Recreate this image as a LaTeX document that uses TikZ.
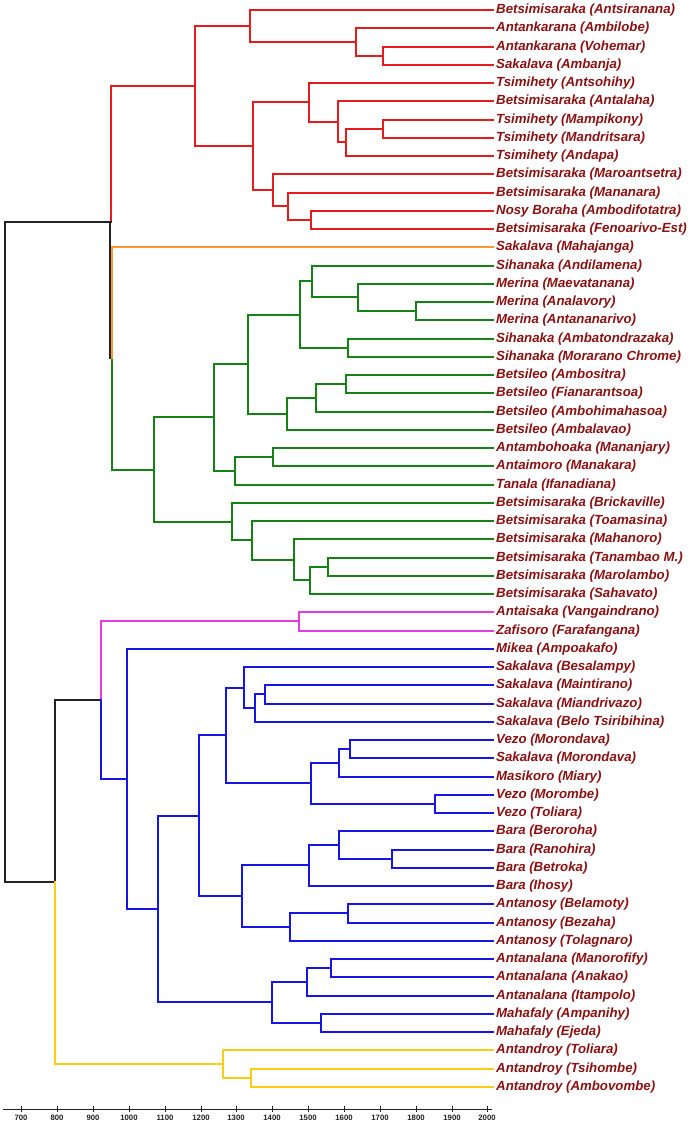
\documentclass[tikz,border=0pt]{standalone}
\usepackage{fontspec}
\setmainfont{Liberation Sans}
\definecolor{labred}{RGB}{139,18,18}
\definecolor{cred}{RGB}{228,28,28}
\definecolor{cgreen}{RGB}{22,130,22}
\definecolor{corange}{RGB}{255,150,50}
\definecolor{cmag}{RGB}{228,60,228}
\definecolor{cblue}{RGB}{22,22,228}
\definecolor{cyel}{RGB}{255,204,20}
\definecolor{cblack}{RGB}{34,34,34}
\begin{document}
\begin{tikzpicture}[x=1bp,y=-1bp,
  lab/.style={anchor=west,inner xsep=3pt,inner ysep=0pt,text=labred,font=\fontsize{13.3}{15}\selectfont\bfseries\itshape},
  br/.style={line width=2bp,line cap=rect},
  rl/.style={br,cred}, gl/.style={br,cgreen}, ol/.style={br,corange},
  ml/.style={br,cmag}, bl/.style={br,cblue}, yl/.style={br,cyel},
  kl/.style={br,cblack},
  axl/.style={line width=1bp,cblack},
  ticklab/.style={font=\fontsize{7.8}{9}\selectfont\bfseries,text=cblack,inner sep=0pt}]
\useasboundingbox (0,0) rectangle (692,1124);
\fill[white] (0,0) rectangle (692,1124);
% leaves
\foreach \t [count=\i from 0] in {
Betsimisaraka (Antsiranana),Antankarana (Ambilobe),Antankarana (Vohemar),Sakalava (Ambanja),
Tsimihety (Antsohihy),Betsimisaraka (Antalaha),Tsimihety (Mampikony),Tsimihety (Mandritsara),
Tsimihety (Andapa),Betsimisaraka (Maroantsetra),Betsimisaraka (Mananara),Nosy Boraha (Ambodifotatra),
Betsimisaraka (Fenoarivo-Est),Sakalava (Mahajanga),Sihanaka (Andilamena),Merina (Maevatanana),
Merina (Analavory),Merina (Antananarivo),Sihanaka (Ambatondrazaka),Sihanaka (Morarano Chrome),
Betsileo (Ambositra),Betsileo (Fianarantsoa),Betsileo (Ambohimahasoa),Betsileo (Ambalavao),
Antambohoaka (Mananjary),Antaimoro (Manakara),Tanala (Ifanadiana),Betsimisaraka (Brickaville),
Betsimisaraka (Toamasina),Betsimisaraka (Mahanoro),Betsimisaraka (Tanambao M.),Betsimisaraka (Marolambo),
Betsimisaraka (Sahavato),Antaisaka (Vangaindrano),Zafisoro (Farafangana),Mikea (Ampoakafo),
Sakalava (Besalampy),Sakalava (Maintirano),Sakalava (Miandrivazo),Sakalava (Belo Tsiribihina),
Vezo (Morondava),Sakalava (Morondava),Masikoro (Miary),Vezo (Morombe),
Vezo (Toliara),Bara (Beroroha),Bara (Ranohira),Bara (Betroka),
Bara (Ihosy),Antanosy (Belamoty),Antanosy (Bezaha),Antanosy (Tolagnaro),
Antanalana (Manorofify),Antanalana (Anakao),Antanalana (Itampolo),Mahafaly (Ampanihy),
Mahafaly (Ejeda),Antandroy (Toliara),Antandroy (Tsihombe),Antandroy (Ambovombe)}
{\node[lab] (L\i) at (493,{round(10+18.25*\i)}) {\t};}
% internal coordinates
\coordinate (r1) at (383,56);
\coordinate (r2) at (356,42);
\coordinate (r3) at (250,26);
\coordinate (r4) at (383,129);
\coordinate (r5) at (346,142);
\coordinate (r6) at (338,122);
\coordinate (r7) at (309,102);
\coordinate (r8) at (311,220);
\coordinate (r9) at (288,206);
\coordinate (r10) at (273,190);
\coordinate (r11) at (253,146);
\coordinate (r12) at (195,86);
\coordinate (g1) at (416,311);
\coordinate (g2) at (358,297);
\coordinate (g3) at (312,281);
\coordinate (g4) at (348,348);
\coordinate (g5) at (300,315);
\coordinate (g6) at (346,384);
\coordinate (g7) at (316,398);
\coordinate (g8) at (287,414);
\coordinate (g9) at (248,364);
\coordinate (g10) at (273,457);
\coordinate (g11) at (235,471);
\coordinate (g12) at (214,417);
\coordinate (g13) at (328,567);
\coordinate (g14) at (310,580);
\coordinate (g15) at (294,560);
\coordinate (g16) at (252,540);
\coordinate (g17) at (232,522);
\coordinate (g18) at (154,470);
\coordinate (o1) at (112,358);
\coordinate (top) at (111,222);
\coordinate (topk) at (110,222);
\coordinate (m1) at (299,621);
\coordinate (b1) at (265,694);
\coordinate (b2) at (255,708);
\coordinate (b3) at (244,688);
\coordinate (b4) at (350,749);
\coordinate (b5) at (339,763);
\coordinate (b6) at (435,804);
\coordinate (b7) at (311,783);
\coordinate (b8) at (226,735);
\coordinate (b9) at (392,859);
\coordinate (b10) at (339,845);
\coordinate (b11) at (309,865);
\coordinate (b12) at (348,913);
\coordinate (b13) at (290,927);
\coordinate (b14) at (242,896);
\coordinate (b15) at (199,816);
\coordinate (b16) at (331,968);
\coordinate (b17) at (307,982);
\coordinate (b18) at (321,1023);
\coordinate (b19) at (272,1002);
\coordinate (b20) at (158,909);
\coordinate (b21) at (127,779);
\coordinate (bm) at (101,700);
\coordinate (y1) at (251,1078);
\coordinate (y2) at (223,1064);
\coordinate (bot) at (55,882);
\coordinate (root) at (5,552);
% red cluster
\draw[rl] (L2.west) -| (r1) |- (L3.west);
\draw[rl] (L1.west) -| (r2) |- (r1);
\draw[rl] (L0.west) -| (r3) |- (r2);
\draw[rl] (L6.west) -| (r4) |- (L7.west);
\draw[rl] (r4) -| (r5) |- (L8.west);
\draw[rl] (L5.west) -| (r6) |- (r5);
\draw[rl] (L4.west) -| (r7) |- (r6);
\draw[rl] (L11.west) -| (r8) |- (L12.west);
\draw[rl] (L10.west) -| (r9) |- (r8);
\draw[rl] (L9.west) -| (r10) |- (r9);
\draw[rl] (r7) -| (r11) |- (r10);
\draw[rl] (r3) -| (r12) |- (r11);
\draw[rl] (r12) -| (top);
% green cluster
\draw[gl] (L16.west) -| (g1) |- (L17.west);
\draw[gl] (L15.west) -| (g2) |- (g1);
\draw[gl] (L14.west) -| (g3) |- (g2);
\draw[gl] (L18.west) -| (g4) |- (L19.west);
\draw[gl] (g3) -| (g5) |- (g4);
\draw[gl] (L20.west) -| (g6) |- (L21.west);
\draw[gl] (g6) -| (g7) |- (L22.west);
\draw[gl] (g7) -| (g8) |- (L23.west);
\draw[gl] (g5) -| (g9) |- (g8);
\draw[gl] (L24.west) -| (g10) |- (L25.west);
\draw[gl] (g10) -| (g11) |- (L26.west);
\draw[gl] (g9) -| (g12) |- (g11);
\draw[gl] (L30.west) -| (g13) |- (L31.west);
\draw[gl] (g13) -| (g14) |- (L32.west);
\draw[gl] (L29.west) -| (g15) |- (g14);
\draw[gl] (L28.west) -| (g16) |- (g15);
\draw[gl] (L27.west) -| (g17) |- (g16);
\draw[gl] (g12) -| (g18) |- (g17);
\draw[gl] (o1) |- (g18);
% black links
\draw[kl] (topk) -- (topk |- o1);
\draw[kl] (top) -| (root) |- (bot);
\draw[kl] (bm) -| (bot);
% orange
\draw[ol] (L13.west) -| (o1);
% magenta
\draw[ml] (L33.west) -| (m1) |- (L34.west);
\draw[ml] (m1) -| (bm);
% blue cluster
\draw[bl] (bm) |- (b21);
\draw[bl] (L37.west) -| (b1) |- (L38.west);
\draw[bl] (b1) -| (b2) |- (L39.west);
\draw[bl] (L36.west) -| (b3) |- (b2);
\draw[bl] (L40.west) -| (b4) |- (L41.west);
\draw[bl] (b4) -| (b5) |- (L42.west);
\draw[bl] (L43.west) -| (b6) |- (L44.west);
\draw[bl] (b5) -| (b7) |- (b6);
\draw[bl] (b3) -| (b8) |- (b7);
\draw[bl] (L46.west) -| (b9) |- (L47.west);
\draw[bl] (L45.west) -| (b10) |- (b9);
\draw[bl] (b10) -| (b11) |- (L48.west);
\draw[bl] (L49.west) -| (b12) |- (L50.west);
\draw[bl] (b12) -| (b13) |- (L51.west);
\draw[bl] (b11) -| (b14) |- (b13);
\draw[bl] (b8) -| (b15) |- (b14);
\draw[bl] (L52.west) -| (b16) |- (L53.west);
\draw[bl] (b16) -| (b17) |- (L54.west);
\draw[bl] (L55.west) -| (b18) |- (L56.west);
\draw[bl] (b17) -| (b19) |- (b18);
\draw[bl] (b15) -| (b20) |- (b19);
\draw[bl] (L35.west) -| (b21) |- (b20);
% yellow cluster
\draw[yl] (bot) |- (y2);
\draw[yl] (L57.west) -| (y2) |- (y1);
\draw[yl] (L58.west) -| (y1) |- (L59.west);
% axis
\coordinate (ax0) at (3,1109);
\coordinate (ax1) at (492,1109);
\draw[axl] (ax0) -- (ax1);
\foreach \v [count=\k from 0] in {700,800,900,1000,1100,1200,1300,1400,1500,1600,1700,1800,1900,2000}{
  \draw[axl] ({round(21.3+35.85*\k)},1105.5) -- ({round(21.3+35.85*\k)},1111.5);
  \node[ticklab] (T\k) at ({round(21.3+35.85*\k)},1118) {\v};
}
\end{tikzpicture}
\end{document}
